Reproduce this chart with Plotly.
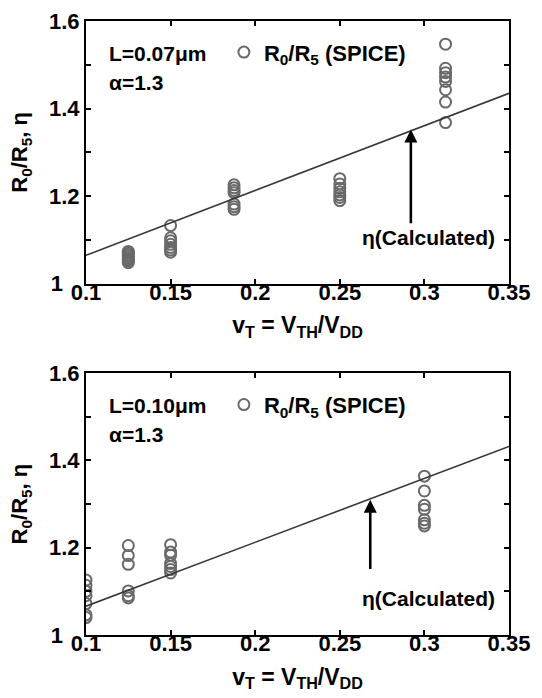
import plotly.graph_objects as go

# ---- data ------------------------------------------------------------------
# L = 0.07 um : SPICE ratio R0/R5 at each threshold ratio vT
vt_07 = [0.125] * 8 + [0.15] * 7 + [0.1875] * 7 + [0.25] * 7 + [0.3125] * 8
r_07 = [1.048, 1.052, 1.055, 1.058, 1.062, 1.066, 1.070, 1.074,
        1.133, 1.105, 1.098, 1.090, 1.083, 1.077, 1.072,
        1.226, 1.219, 1.213, 1.208, 1.182, 1.176, 1.170,
        1.240, 1.228, 1.218, 1.210, 1.203, 1.197, 1.190,
        1.547, 1.492, 1.482, 1.472, 1.462, 1.443, 1.415, 1.368]

# L = 0.10 um
vt_10 = [0.1] * 7 + [0.125] * 6 + [0.15] * 7 + [0.3] * 7
r_10 = [1.126, 1.114, 1.100, 1.090, 1.072, 1.046, 1.040,
        1.205, 1.182, 1.162, 1.101, 1.090, 1.085,
        1.207, 1.190, 1.183, 1.164, 1.157, 1.150, 1.142,
        1.364, 1.330, 1.297, 1.288, 1.264, 1.256, 1.250]

# calculated eta line (end points)
vt_eta = [0.1, 0.35]
eta_07 = [1.065, 1.435]
eta_10 = [1.066, 1.432]

x_ticks = [0.1, 0.15, 0.2, 0.25, 0.3, 0.35]
x_ticktext = ["0.1", "0.15", "0.2", "0.25", "0.3", "0.35"]
y_ticks = [1.0, 1.1, 1.2, 1.3, 1.4, 1.5, 1.6]
y_ticktext = ["1\u2007\u2009", "", "1.2", "", "1.4", "", "1.6"]

# ---- styling ---------------------------------------------------------------
FONT = "Liberation Sans, Arial, sans-serif"
MARKER_GRAY = "rgb(105,105,105)"
LINE_GRAY = "rgb(55,55,55)"

fig = go.Figure()

def add_panel(vt, r, eta, xa, ya, legend):
    fig.add_trace(go.Scatter(
        x=vt, y=r, mode="markers", xaxis=xa, yaxis=ya, legend=legend,
        name="R<sub>0</sub>/R<sub>5</sub> (SPICE)",
        marker=dict(symbol="circle-open", size=11, color=MARKER_GRAY,
                    line=dict(width=2, color=MARKER_GRAY)),
    ))
    fig.add_trace(go.Scatter(
        x=vt_eta, y=eta, mode="lines", xaxis=xa, yaxis=ya,
        showlegend=False, line=dict(color=LINE_GRAY, width=1.6),
    ))

add_panel(vt_07, r_07, eta_07, "x", "y", "legend")
add_panel(vt_10, r_10, eta_10, "x2", "y2", "legend2")

axis_common = dict(
    showline=True, linecolor="black", linewidth=2, mirror="ticks",
    ticks="inside", ticklen=5, tickwidth=2, tickcolor="black",
    showgrid=False, zeroline=False,
    tickfont=dict(family=FONT, size=22, color="black", weight="bold"),
)
xtitle = dict(text="v<sub>T</sub> = V<sub>TH</sub>/V<sub>DD</sub>",
              font=dict(family=FONT, size=23, color="black", weight="bold"),
              standoff=13)
ytitle = dict(text="R<sub>0</sub>/R<sub>5</sub>, \u03b7",
              font=dict(family=FONT, size=22, color="black", weight="bold"),
              standoff=15)

fig.update_layout(
    width=542, height=698,
    margin=dict(l=86, r=33, t=9, b=63),
    paper_bgcolor="white", plot_bgcolor="white",
    xaxis=dict(domain=[0, 1], anchor="y", range=[0.1, 0.35],
               tickvals=x_ticks, ticktext=x_ticktext, title=xtitle,
               ticklabelstandoff=-12, **axis_common),
    yaxis=dict(domain=[0.572, 1.0], anchor="x", range=[1.0, 1.6],
               tickvals=y_ticks, ticktext=y_ticktext, title=ytitle,
               **axis_common),
    xaxis2=dict(domain=[0, 1], anchor="y2", range=[0.1, 0.35],
                tickvals=x_ticks, ticktext=x_ticktext, title=xtitle,
                ticklabelstandoff=-12, **axis_common),
    yaxis2=dict(domain=[0, 0.4265], anchor="x2", range=[1.0, 1.6],
                tickvals=y_ticks, ticktext=y_ticktext, title=ytitle,
                **axis_common),
    legend=dict(x=0.326, y=0.949, xanchor="left", yanchor="middle",
                bgcolor="rgba(0,0,0,0)",
                font=dict(family=FONT, size=22, color="black", weight="bold")),
    legend2=dict(x=0.326, y=0.375, xanchor="left", yanchor="middle",
                 bgcolor="rgba(0,0,0,0)",
                 font=dict(family=FONT, size=22, color="black", weight="bold")),
)

label_font = dict(family=FONT, size=21, color="black", weight="bold")

def add_labels(xa, ya, length_text, arrow_x, arrow_head, arrow_tail, calc_y):
    xd, yd = xa + " domain", ya + " domain"
    fig.add_annotation(xref=xd, yref=yd, x=0.05, y=0.878, xanchor="left",
                       yanchor="middle", text=length_text, showarrow=False,
                       font=label_font)
    fig.add_annotation(xref=xd, yref=yd, x=0.05, y=0.766, xanchor="left",
                       yanchor="middle", text="\u03b1=1.3", showarrow=False,
                       font=label_font)
    fig.add_annotation(xref=xd, yref=yd, x=0.81, y=calc_y, xanchor="center",
                       yanchor="middle", text="\u03b7(Calculated)",
                       showarrow=False, font=label_font)
    fig.add_annotation(xref=xa, yref=ya, axref=xa, ayref=ya,
                       x=arrow_x, y=arrow_head, ax=arrow_x, ay=arrow_tail,
                       text="", showarrow=True, arrowhead=2, arrowsize=1,
                       arrowwidth=2.6, arrowcolor="black")

add_labels("x", "y", "L=0.07\u03bcm", 0.292, 1.352, 1.135, 0.176)
add_labels("x2", "y2", "L=0.10\u03bcm", 0.268, 1.31, 1.148, 0.14)

fig.write_html("out.html")
